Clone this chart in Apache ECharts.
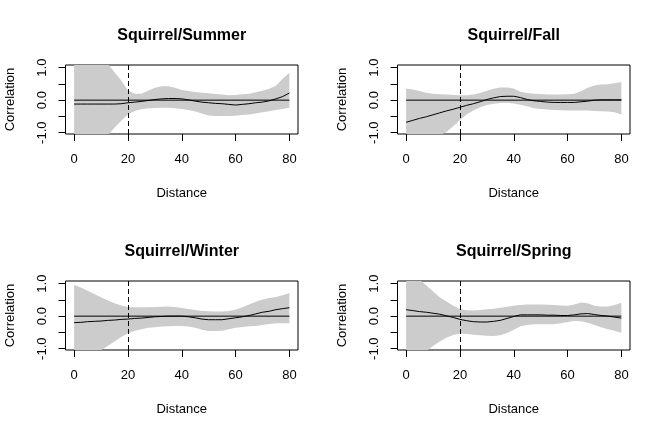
<!DOCTYPE html>
<html><head><meta charset="utf-8">
<script src="https://cdn.jsdelivr.net/npm/echarts@6/dist/echarts.min.js"></script>
<style>html,body{margin:0;padding:0;background:#fff}#c{width:664px;height:432px}</style>
</head><body><div id="c"></div>
<script>
const distance = [0,2.5,5,7.5,10,12.5,15,17.5,20,22.5,25,27.5,30,32.5,35,37.5,40,42.5,45,47.5,50,52.5,55,57.5,60,62.5,65,67.5,70,72.5,75,77.5,80];
const panelTitles = ['Squirrel/Summer','Squirrel/Fall','Squirrel/Winter','Squirrel/Spring'];
const xTicks = [0,20,40,60,80];
const yTicks = [-1,-0.5,0,0.5,1];
const yTickLabels = [-1,0,1];
const cutoffDistance = 20;

const summerUpper = [1.6,1.55,1.45,1.35,1.25,1.12,0.86,0.60,0.30,0.20,0.20,0.29,0.38,0.43,0.43,0.38,0.31,0.28,0.25,0.23,0.21,0.19,0.17,0.15,0.16,0.18,0.20,0.24,0.29,0.35,0.44,0.66,0.84];
const summerLower = [-1.6,-1.55,-1.45,-1.35,-1.25,-1.08,-0.85,-0.63,-0.44,-0.33,-0.28,-0.25,-0.24,-0.23,-0.23,-0.25,-0.27,-0.30,-0.35,-0.41,-0.47,-0.49,-0.49,-0.49,-0.48,-0.46,-0.44,-0.41,-0.37,-0.34,-0.30,-0.27,-0.23];
const summerCorr  = [-0.12,-0.12,-0.12,-0.12,-0.12,-0.12,-0.12,-0.11,-0.08,-0.06,-0.04,-0.01,0.02,0.04,0.05,0.05,0.04,0.01,-0.03,-0.06,-0.08,-0.10,-0.11,-0.13,-0.15,-0.13,-0.11,-0.08,-0.06,-0.02,0.04,0.11,0.22];

const fallUpper = [0.36,0.33,0.28,0.23,0.20,0.18,0.17,0.16,0.15,0.15,0.17,0.22,0.29,0.35,0.39,0.39,0.36,0.26,0.22,0.20,0.19,0.17,0.17,0.17,0.18,0.20,0.27,0.38,0.45,0.48,0.49,0.52,0.56];
const fallLower = [-1.4,-1.35,-1.3,-1.22,-1.15,-1.08,-0.98,-0.80,-0.61,-0.44,-0.32,-0.22,-0.15,-0.11,-0.09,-0.08,-0.10,-0.14,-0.19,-0.25,-0.27,-0.29,-0.30,-0.31,-0.32,-0.32,-0.32,-0.32,-0.33,-0.34,-0.35,-0.37,-0.44];
const fallCorr  = [-0.68,-0.62,-0.56,-0.51,-0.45,-0.39,-0.33,-0.28,-0.22,-0.16,-0.11,-0.05,0.02,0.07,0.11,0.12,0.12,0.08,0.02,-0.02,-0.04,-0.06,-0.07,-0.07,-0.07,-0.07,-0.05,-0.03,0.00,0.01,0.01,0.01,0.01];

const winterUpper = [0.96,0.88,0.78,0.68,0.58,0.48,0.40,0.33,0.28,0.27,0.27,0.27,0.28,0.29,0.30,0.28,0.25,0.22,0.19,0.16,0.15,0.14,0.14,0.16,0.20,0.27,0.36,0.44,0.51,0.56,0.59,0.64,0.71];
const winterLower = [-1.35,-1.28,-1.2,-1.12,-1.05,-0.92,-0.78,-0.64,-0.53,-0.45,-0.40,-0.36,-0.34,-0.32,-0.31,-0.30,-0.30,-0.32,-0.36,-0.42,-0.46,-0.46,-0.45,-0.40,-0.36,-0.33,-0.31,-0.30,-0.27,-0.24,-0.22,-0.22,-0.22];
const winterCorr  = [-0.20,-0.19,-0.17,-0.16,-0.15,-0.13,-0.12,-0.10,-0.09,-0.07,-0.06,-0.04,-0.02,-0.01,0.00,0.00,0.00,-0.02,-0.05,-0.09,-0.11,-0.11,-0.11,-0.08,-0.05,-0.02,0.02,0.07,0.12,0.15,0.20,0.23,0.26];

const springUpper = [1.35,1.25,1.12,0.95,0.76,0.58,0.45,0.32,0.22,0.18,0.17,0.19,0.21,0.23,0.26,0.29,0.32,0.34,0.36,0.36,0.36,0.35,0.34,0.33,0.32,0.36,0.42,0.40,0.32,0.30,0.30,0.34,0.41];
const springLower = [-1.4,-1.3,-1.2,-1.08,-0.92,-0.78,-0.66,-0.58,-0.53,-0.55,-0.57,-0.59,-0.60,-0.61,-0.59,-0.52,-0.42,-0.31,-0.27,-0.25,-0.25,-0.25,-0.25,-0.22,-0.18,-0.15,-0.16,-0.20,-0.27,-0.34,-0.40,-0.45,-0.51];
const springCorr  = [0.20,0.17,0.14,0.12,0.09,0.06,0.01,-0.04,-0.10,-0.14,-0.17,-0.18,-0.18,-0.16,-0.13,-0.07,-0.01,0.04,0.04,0.04,0.04,0.03,0.03,0.02,0.02,0.04,0.07,0.08,0.05,0.02,0.00,-0.03,-0.06];

const panels = [
  {upper: summerUpper, lower: summerLower, corr: summerCorr},
  {upper: fallUpper, lower: fallLower, corr: fallCorr},
  {upper: winterUpper, lower: winterLower, corr: winterCorr},
  {upper: springUpper, lower: springLower, corr: springCorr}
];

const FONT = '"Liberation Sans", Arial, sans-serif';
const cellW = 332, cellH = 216;
const boxL = 65.5, boxT = 65, boxW = 232.5, boxH = 69;

const option = {animation: false, backgroundColor: '#fff', title: [], grid: [], xAxis: [], yAxis: [], series: []};

panels.forEach((p, i) => {
  const col = i % 2, row = Math.floor(i / 2);
  const left = boxL + col * cellW, top = boxT + row * cellH;
  option.title.push({
    text: panelTitles[i], left: left + boxW / 2, top: top - 37, textAlign: 'center', padding: 0,
    textStyle: {fontFamily: FONT, fontSize: 16, fontWeight: 'bold', color: '#000'}
  });
  option.grid.push({left: left, top: top, width: boxW, height: boxH, show: true,
    borderColor: '#000', borderWidth: 1, backgroundColor: 'transparent', containLabel: false});
  option.xAxis.push({
    type: 'value', gridIndex: i, min: -3.2, max: 83.2, position: 'bottom',
    name: 'Distance', nameLocation: 'middle', nameGap: 53,
    nameTextStyle: {fontFamily: FONT, fontSize: 13, color: '#000'},
    axisLine: {show: false, onZero: false},
    axisTick: {show: true, length: 7, customValues: xTicks, lineStyle: {color: '#000', width: 1}},
    axisLabel: {show: true, customValues: xTicks, margin: 19, fontFamily: FONT, fontSize: 13, color: '#000'},
    splitLine: {show: false}
  });
  option.yAxis.push({
    type: 'value', gridIndex: i, min: -1.04, max: 1.08, position: 'left',
    name: 'Correlation', nameLocation: 'middle', nameGap: 49,
    nameTextStyle: {fontFamily: FONT, fontSize: 13, color: '#000'},
    axisLine: {show: false, onZero: false},
    axisTick: {show: true, length: 7, customValues: yTicks, lineStyle: {color: '#000', width: 1}},
    axisLabel: {show: true, customValues: yTickLabels, rotate: 90, margin: 17, fontFamily: FONT, fontSize: 13, color: '#000',
      formatter: v => v.toFixed(1)},
    splitLine: {show: false}
  });
  // confidence envelope drawn as one polygon through the axis scales
  option.series.push({
    type: 'custom', xAxisIndex: i, yAxisIndex: i, silent: true, z: 1, clip: true,
    data: distance.map((d, k) => [d, p.lower[k], p.upper[k]]),
    encode: {x: 0, y: [1, 2]},
    renderItem: (params, api) => {
      if (params.dataIndex !== 0) return null;
      const pts = [];
      for (let k = 0; k < distance.length; k++) pts.push(api.coord([distance[k], p.upper[k]]));
      for (let k = distance.length - 1; k >= 0; k--) pts.push(api.coord([distance[k], p.lower[k]]));
      const cs = params.coordSys;
      return {
        type: 'polygon', shape: {points: pts},
        style: {fill: '#cccccc', stroke: null},
        clipPath: {type: 'rect', shape: {x: cs.x, y: cs.y, width: cs.width, height: cs.height}}
      };
    }
  });
  option.series.push({
    type: 'line', xAxisIndex: i, yAxisIndex: i,
    data: [[xTicks[0], 0], [xTicks[xTicks.length - 1], 0]],
    showSymbol: false, symbol: 'none', lineStyle: {color: '#000', width: 1}, silent: true, z: 3,
    markLine: {silent: true, symbol: 'none', label: {show: false},
      lineStyle: {color: '#000', width: 1, type: [5, 3]},
      data: [{xAxis: cutoffDistance}]}
  });
  option.series.push({
    type: 'line', xAxisIndex: i, yAxisIndex: i,
    data: distance.map((d, k) => [d, p.corr[k]]),
    showSymbol: false, symbol: 'none', lineStyle: {color: '#000', width: 1}, silent: true, z: 4, clip: true
  });
});

const chart = echarts.init(document.getElementById('c'), null, {renderer: 'canvas'});
chart.setOption(option);
</script>
</body></html>
